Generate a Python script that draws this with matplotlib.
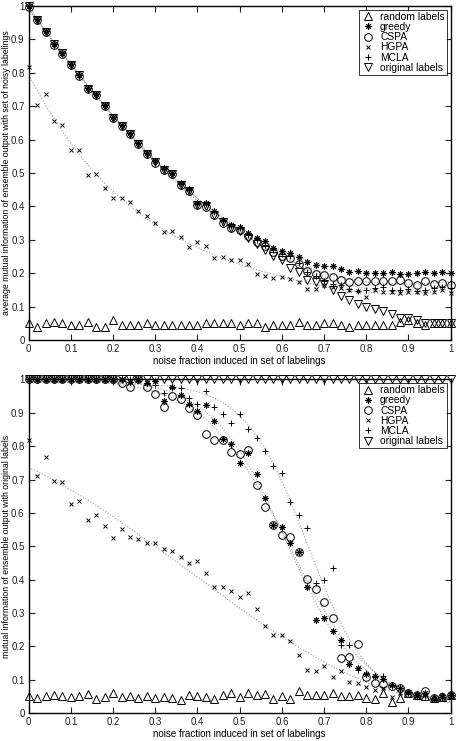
import numpy as np
import matplotlib
matplotlib.use("Agg")
import matplotlib.pyplot as plt
from matplotlib.ticker import FormatStrFormatter, MultipleLocator

plt.rcParams['font.family'] = ['Liberation Sans', 'DejaVu Sans']

noise = [round(0.02 * i, 2) for i in range(51)]

# ---------------- top panel: MI with set of noisy labelings ----------------
top_random = [0.05, 0.04, 0.05, 0.055, 0.05, 0.045, 0.045, 0.055, 0.04, 0.04,
              0.06, 0.045, 0.045, 0.045, 0.05, 0.045, 0.045, 0.045, 0.045, 0.045,
              0.045, 0.05, 0.05, 0.05, 0.05, 0.045, 0.05, 0.05, 0.04, 0.045,
              0.045, 0.045, 0.055, 0.045, 0.045, 0.05, 0.05, 0.045, 0.04, 0.045,
              0.045, 0.045, 0.045, 0.045, 0.055, 0.06, 0.05, 0.045, 0.05, 0.05, 0.05]
top_greedy = [1.0, 0.960, 0.925, 0.887, 0.860, 0.825, 0.794, 0.755, 0.736, 0.703,
              0.669, 0.644, 0.619, 0.589, 0.559, 0.537, 0.514, 0.501, 0.469, 0.451,
              0.411, 0.411, 0.385, 0.359, 0.344, 0.338, 0.319, 0.304, 0.296, 0.276,
              0.267, 0.261, 0.248, 0.233, 0.223, 0.220, 0.220, 0.212, 0.205, 0.207,
              0.200, 0.200, 0.200, 0.205, 0.198, 0.198, 0.202, 0.205, 0.202, 0.205, 0.200]
top_cspa = [0.998, 0.957, 0.921, 0.884, 0.857, 0.822, 0.791, 0.752, 0.733, 0.700,
            0.666, 0.641, 0.616, 0.586, 0.556, 0.530, 0.508, 0.496, 0.465, 0.447,
            0.403, 0.399, 0.373, 0.350, 0.335, 0.330, 0.310, 0.292, 0.280, 0.262,
            0.250, 0.245, 0.226, 0.206, 0.198, 0.195, 0.188, 0.180, 0.175, 0.177,
            0.176, 0.176, 0.176, 0.177, 0.180, 0.172, 0.164, 0.177, 0.167, 0.172, 0.165]
top_hgpa = [0.818, 0.703, 0.738, 0.657, 0.644, 0.570, 0.568, 0.494, 0.496, 0.456,
            0.424, 0.426, 0.414, 0.386, 0.372, 0.351, 0.324, 0.326, 0.309, 0.279,
            0.294, 0.281, 0.245, 0.248, 0.240, 0.238, 0.226, 0.197, 0.192, 0.185,
            0.188, 0.182, 0.175, 0.152, 0.153, 0.165, 0.160, 0.155, 0.150, 0.148,
            0.130, 0.150, 0.145, 0.145, 0.142, 0.145, 0.145, 0.142, 0.145, 0.150, 0.142]
top_mcla = [1.0, 0.960, 0.925, 0.887, 0.860, 0.825, 0.794, 0.755, 0.736, 0.703,
            0.669, 0.644, 0.619, 0.589, 0.559, 0.535, 0.512, 0.500, 0.468, 0.450,
            0.408, 0.407, 0.382, 0.356, 0.340, 0.335, 0.315, 0.300, 0.285, 0.270,
            0.258, 0.250, 0.230, 0.205, 0.192, 0.178, 0.168, 0.164, 0.152, 0.148,
            0.150, 0.155, 0.158, 0.150, 0.150, 0.152, 0.148, 0.150, 0.155, 0.160, 0.155]
top_orig = [1.0, 0.958, 0.922, 0.885, 0.858, 0.822, 0.792, 0.752, 0.733, 0.700,
            0.666, 0.641, 0.616, 0.586, 0.556, 0.533, 0.510, 0.497, 0.465, 0.446,
            0.405, 0.400, 0.375, 0.352, 0.334, 0.326, 0.306, 0.288, 0.270, 0.250,
            0.239, 0.216, 0.205, 0.180, 0.175, 0.168, 0.150, 0.132, 0.120, 0.108,
            0.098, 0.092, 0.088, 0.078, 0.067, 0.067, 0.060, 0.050, 0.050, 0.052, 0.050]

# ---------------- bottom panel: MI with original labels ----------------
bot_random = [0.052, 0.045, 0.053, 0.055, 0.052, 0.048, 0.053, 0.057, 0.042, 0.049,
              0.062, 0.050, 0.053, 0.047, 0.053, 0.045, 0.050, 0.046, 0.041, 0.055,
              0.053, 0.048, 0.042, 0.054, 0.060, 0.050, 0.060, 0.055, 0.057, 0.042,
              0.053, 0.043, 0.068, 0.055, 0.055, 0.055, 0.060, 0.053, 0.053, 0.055,
              0.047, 0.043, 0.060, 0.035, 0.045, 0.060, 0.055, 0.053, 0.045, 0.050, 0.055]
bot_greedy = [1.0, 1.0, 1.0, 1.0, 1.0, 1.0, 1.0, 1.0, 1.0, 1.0,
              1.0, 1.0, 0.991, 1.0, 0.988, 0.994, 0.934, 0.977, 0.952, 0.925,
              0.904, 0.922, 0.874, 0.821, 0.806, 0.750, 0.779, 0.716, 0.646, 0.564,
              0.558, 0.510, 0.482, 0.379, 0.279, 0.286, 0.245, 0.219, 0.149, 0.135,
              0.118, 0.112, 0.102, 0.085, 0.075, 0.065, 0.055, 0.060, 0.042, 0.050, 0.055]
bot_cspa = [1.0, 1.0, 1.0, 1.0, 1.0, 1.0, 1.0, 1.0, 1.0, 1.0,
            1.0, 0.988, 0.978, 1.0, 0.978, 0.957, 0.917, 0.949, 0.942, 0.914,
            0.892, 0.837, 0.819, 0.819, 0.783, 0.776, 0.788, 0.684, 0.619, 0.563,
            0.534, 0.527, 0.484, 0.401, 0.371, 0.334, 0.286, 0.167, 0.168, 0.207,
            0.109, 0.090, 0.088, 0.082, 0.075, 0.060, 0.055, 0.068, 0.045, 0.050, 0.055]
bot_hgpa = [0.818, 0.711, 0.766, 0.696, 0.692, 0.627, 0.637, 0.579, 0.594, 0.562,
            0.526, 0.551, 0.529, 0.521, 0.511, 0.509, 0.492, 0.486, 0.467, 0.451,
            0.456, 0.419, 0.379, 0.379, 0.366, 0.347, 0.359, 0.312, 0.262, 0.234,
            0.234, 0.216, 0.175, 0.130, 0.128, 0.143, 0.110, 0.128, 0.095, 0.092,
            0.078, 0.070, 0.075, 0.050, 0.060, 0.060, 0.055, 0.055, 0.045, 0.055, 0.050]
bot_mcla = [1.0, 1.0, 1.0, 1.0, 1.0, 1.0, 1.0, 1.0, 1.0, 1.0,
            1.0, 1.0, 1.0, 1.0, 0.99, 0.982, 0.960, 0.975, 0.975, 0.944,
            0.927, 0.964, 0.916, 0.897, 0.870, 0.897, 0.850, 0.825, 0.786, 0.740,
            0.720, 0.634, 0.593, 0.556, 0.389, 0.399, 0.434, 0.204, 0.204, 0.130,
            0.120, 0.110, 0.112, 0.082, 0.075, 0.060, 0.050, 0.052, 0.045, 0.055, 0.060]
bot_orig = [1.0] * 51

labels = ['random labels', 'greedy', 'CSPA', 'HGPA', 'MCLA', 'original labels']
markers = ['^', (8, 2, 0), 'o', 'x', '+', 'v']
msizes = [5.5, 4.5, 5.5, 3.0, 5.0, 5.5]

top_series = [top_random, top_greedy, top_cspa, top_hgpa, top_mcla, top_orig]
bot_series = [bot_random, bot_greedy, bot_cspa, bot_hgpa, bot_mcla, bot_orig]

fig = plt.figure(figsize=(4.57, 7.41), dpi=100)
ax1 = fig.add_axes([0.0628, 0.5412, 0.9234, 0.4507])
ax2 = fig.add_axes([0.0628, 0.0374, 0.9234, 0.4507])

x = np.array(noise)
xf = np.linspace(0, 1, 200)


def poly_fit(y, deg):
    return np.polyval(np.polyfit(x, y, deg), xf)


def sigmoid_fit(y):
    # least-squares fit of y = a + b / (1 + exp((x - x0) / w)), grid over x0, w
    best = None
    for x0 in np.linspace(0.4, 0.9, 101):
        for w in np.linspace(0.02, 0.2, 91):
            g = 1.0 / (1.0 + np.exp((x - x0) / w))
            A = np.vstack([np.ones_like(g), g]).T
            coef, res, _, _ = np.linalg.lstsq(A, y, rcond=None)
            err = np.sum((A @ coef - y) ** 2)
            if best is None or err < best[0]:
                best = (err, x0, w, coef)
    _, x0, w, coef = best
    return coef[0] + coef[1] / (1.0 + np.exp((xf - x0) / w))


def draw(ax, series, fits, ylabel):
    for i, kind in fits:
        y = np.array(series[i])
        yf = sigmoid_fit(y) if kind == 'sig' else poly_fit(y, kind)
        ax.plot(xf, yf, linestyle=':', color='#9a9a9a', lw=0.8, zorder=1)
    for s, lab, m, ms in zip(series, labels, markers, msizes):
        ax.plot(x, s, linestyle='none', marker=m, markersize=ms,
                markerfacecolor='none' if m in ('^', 'o', 'v') else 'black',
                markeredgecolor='black', markeredgewidth=0.7, label=lab,
                zorder=3, clip_on=False)
    ax.set_xlim(0, 1)
    ax.set_ylim(0, 1)
    ax.xaxis.set_major_locator(MultipleLocator(0.1))
    ax.yaxis.set_major_locator(MultipleLocator(0.1))
    ax.xaxis.set_major_formatter(FormatStrFormatter('%g'))
    ax.yaxis.set_major_formatter(FormatStrFormatter('%g'))
    ax.tick_params(direction='in', length=4, width=0.8, top=True, right=True,
                   labelsize=7, pad=3, colors='#222222')
    for sp in ax.spines.values():
        sp.set_linewidth(1.0)
    ax.set_xlabel('noise fraction induced in set of labelings', fontsize=7, labelpad=1)
    ax.set_ylabel(ylabel, fontsize=6.3, labelpad=1)
    ax.yaxis.set_label_coords(-0.041, 0.5)
    leg = ax.legend(loc='upper right', fontsize=7.4, frameon=True, fancybox=False,
                    edgecolor='black', borderaxespad=0.35, handletextpad=0.6,
                    labelspacing=0.02, borderpad=0.22, handlelength=1.2)
    leg.get_frame().set_linewidth(0.7)


draw(ax1, top_series, [(1, 4), (2, 4), (3, 4), (4, 4)],
     'average mutual information of ensemble output with set of noisy labelings')
draw(ax2, bot_series, [(1, 'sig'), (2, 'sig'), (3, 3), (4, 'sig')],
     'mutual information of ensemble output with original labels')

fig.savefig('out.png', dpi=100)
